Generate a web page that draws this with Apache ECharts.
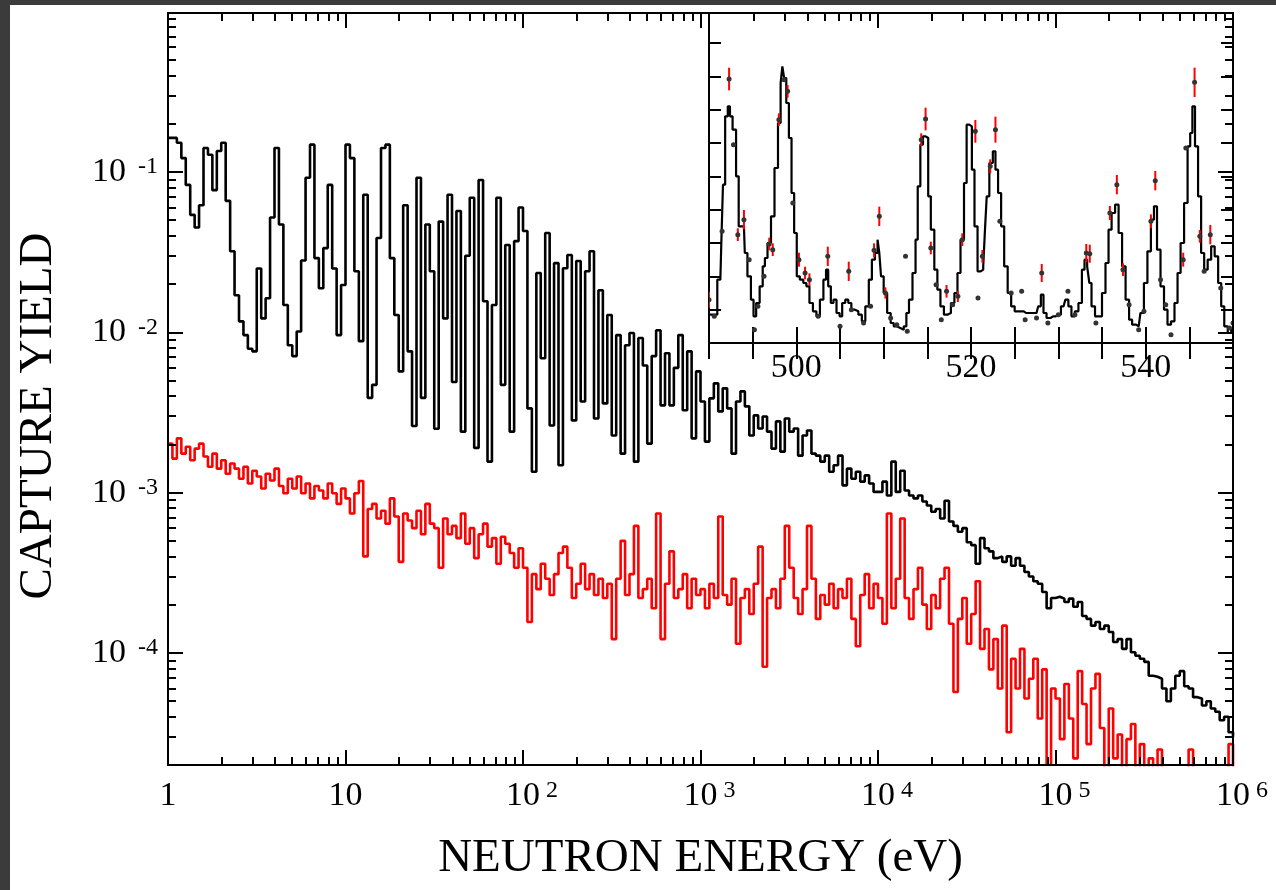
<!DOCTYPE html>
<html lang="en">
<head>
<meta charset="utf-8">
<title>Capture yield vs neutron energy</title>
<script src="https://cdn.jsdelivr.net/npm/echarts@6/dist/echarts.min.js"></script>
<style>
    html, body { margin: 0; padding: 0; background: #3b3b3b; }
    #main { position: absolute; left: 10px; top: 5px; width: 1266px; height: 885px; background: #fff; }
</style>
</head>
<body>
<div id="main"></div>
<script type="text/javascript">
    // bin energies: 40 bins per decade, mantissas of one decade
    var mantissa = [1.000, 1.059, 1.122, 1.189, 1.259, 1.334, 1.413, 1.496, 1.585, 1.679,
        1.778, 1.884, 1.995, 2.113, 2.239, 2.371, 2.512, 2.661, 2.818, 2.985,
        3.162, 3.350, 3.548, 3.758, 3.981, 4.217, 4.467, 4.732, 5.012, 5.309,
        5.623, 5.957, 6.310, 6.683, 7.079, 7.499, 7.943, 8.414, 8.913, 9.441];
    var decades = [1, 10, 100, 1000, 10000, 100000];

    // black histogram (sample capture yield), one value per bin, last value at 1e6 eV
    var sampleYield = [
        0.163, 0.163, 0.152, 0.122, 0.083, 0.054, 0.045, 0.062, 0.141, 0.128, 0.077, 0.135, 0.152, 0.066, 0.032, 0.017, 0.0117, 0.0096, 0.0079, 0.0076,
        0.025, 0.0122, 0.0163, 0.052, 0.141, 0.047, 0.0148, 0.0083, 0.0071, 0.0101, 0.028, 0.092, 0.148, 0.029, 0.0188, 0.0335, 0.083, 0.025, 0.0096, 0.0197,
        0.148, 0.122, 0.024, 0.0088, 0.072, 0.0039, 0.0047, 0.0387, 0.141, 0.148, 0.029, 0.0128, 0.0057, 0.062, 0.0076, 0.0026, 0.092, 0.0039, 0.047, 0.024,
        0.0025, 0.049, 0.0122, 0.072, 0.0049, 0.057, 0.0024, 0.030, 0.069, 0.0019, 0.089, 0.0156, 0.00156, 0.0148, 0.069, 0.0047, 0.035, 0.0024, 0.037, 0.060,
        0.0428, 0.00335, 0.00135, 0.0234, 0.00688, 0.0416, 0.00262, 0.027, 0.00148, 0.0251, 0.0303, 0.00282, 0.0278, 0.0037, 0.024, 0.032, 0.0029, 0.0183, 0.0036, 0.0128,
        0.00227, 0.0096, 0.00175, 0.0083, 0.0099, 0.00156, 0.0092, 0.0062, 0.00202, 0.0071, 0.0103, 0.0035, 0.0074, 0.0035, 0.006, 0.0096, 0.00326, 0.0076, 0.00218, 0.0057,
        0.0037, 0.00208, 0.00387, 0.0048, 0.00321, 0.00447, 0.00335, 0.00175, 0.0037, 0.00428, 0.00345, 0.00227, 0.00303, 0.00251, 0.00298, 0.0024, 0.00188, 0.00278, 0.0018, 0.0029,
        0.0024, 0.00251, 0.0017, 0.00227, 0.00244, 0.00175, 0.0017, 0.00156, 0.0017, 0.00135, 0.00148, 0.0017, 0.00111, 0.00141, 0.00122, 0.00135, 0.00117, 0.00128, 0.00114, 0.00101,
        0.00101, 0.00117, 0.00096, 0.00156, 0.00101, 0.00137, 0.00103, 0.00096, 0.00092, 0.00096, 0.00088, 0.00083, 0.00076, 0.00079, 0.00069, 0.00089, 0.00066, 0.00062, 0.00057, 0.0006,
        0.00049, 0.00047, 0.00036, 0.00052, 0.00045, 0.00043, 0.00039, 0.0004, 0.00037, 0.0004, 0.00035, 0.00039, 0.00035, 0.00032, 0.0003, 0.00028, 0.00027, 0.00024, 0.00019, 0.00022,
        0.000224, 0.000218, 0.000208, 0.000218, 0.000194, 0.000208, 0.00017, 0.000163, 0.000148, 0.000156, 0.000141, 0.000148, 0.000135, 0.000117, 0.000122, 0.000106, 0.000122, 0.000101, 0.000096, 0.000092,
        0.000088, 0.000072, 0.000071, 0.000069, 0.00006, 0.00005, 0.00006, 0.000072, 0.000077, 0.000062, 0.00006, 0.000053, 0.000052, 0.000047, 0.00005, 0.000045, 0.000043, 0.000038, 0.00004, 0.000032,
        0.00003
    ];

    // red histogram (background)
    var backgroundYield = [
        0.00202, 0.00163, 0.00218, 0.00175, 0.00193, 0.00159, 0.00188, 0.00202, 0.00168, 0.00145, 0.00175, 0.00141, 0.00159, 0.00131, 0.00152, 0.00141, 0.00122, 0.00145, 0.00114, 0.00137,
        0.00126, 0.00106, 0.00131, 0.00119, 0.00141, 0.0011, 0.00099, 0.00122, 0.00106, 0.00126, 0.00099, 0.00114, 0.00092, 0.0011, 0.00103, 0.00092, 0.00114, 0.00099, 0.00085, 0.00106,
        0.00092, 0.00074, 0.00099, 0.00118, 0.0004, 0.00079, 0.00085, 0.00069, 0.00077, 0.00064, 0.00092, 0.00071, 0.00037, 0.00074, 0.00067, 0.0006, 0.00077, 0.00055, 0.00085, 0.00064,
        0.0006, 0.00034, 0.00069, 0.00055, 0.00062, 0.00052, 0.00074, 0.00048, 0.0006, 0.00039, 0.00055, 0.00064, 0.00046, 0.00052, 0.00036, 0.00053, 0.00048, 0.00042, 0.00034, 0.00045,
        0.00034, 0.000156, 0.00031, 0.00025, 0.00036, 0.00029, 0.00023, 0.00031, 0.00042, 0.00046, 0.00034, 0.00022, 0.00027, 0.00036, 0.00025, 0.00031, 0.00023, 0.00029, 0.00022, 0.00027,
        0.000122, 0.00029, 0.0005, 0.00023, 0.00031, 0.00062, 0.00022, 0.00025, 0.00029, 0.00019, 0.00074, 0.000122, 0.00027, 0.00043, 0.00022, 0.00025, 0.00031, 0.00019, 0.00029, 0.00023,
        0.00025, 0.00019, 0.00027, 0.00022, 0.00071, 0.00023, 0.0002, 0.00029, 0.000114, 0.00022, 0.00025, 0.000175, 0.00027, 0.00046, 0.000082, 0.00022, 0.00025, 0.00019, 0.00029, 0.00062,
        0.00034, 0.00022, 0.000175, 0.00025, 0.00062, 0.00029, 0.000163, 0.00023, 0.0002, 0.00027, 0.00019, 0.00025, 0.00022, 0.00029, 0.000163, 0.00011, 0.00023, 0.00031, 0.00019, 0.00027,
        0.00022, 0.000152, 0.00074, 0.00019, 0.00029, 0.00069, 0.00022, 0.000163, 0.00025, 0.00034, 0.0002, 0.000141, 0.00023, 0.00019, 0.00029, 0.00034, 0.000152, 0.000057, 0.000163, 0.00022,
        0.000114, 0.000175, 0.00028, 0.000106, 0.000141, 0.000079, 0.000122, 0.00006, 0.000148, 0.000032, 0.000092, 0.00006, 0.000106, 0.000052, 0.000069, 0.000092, 0.000039, 0.000079, 0.00002, 0.00006,
        0.000052, 0.000029, 0.000064, 0.000039, 0.000022, 0.000077, 0.000048, 0.000027, 0.00006, 0.000074, 0.000034, 0.000019, 0.000045, 0.000022, 0.000031, 0.000016, 0.000029, 0.000036, 0.000014, 0.000027,
        0.0000122, 0.000022, 0.000015, 0.000025, 0.0000122, 0.000016, 0.0000092, 0.0000122, 0.000008, 0.000014, 0.000025, 0.0000105, 0.0000069, 0.0000122, 0.000008, 0.0000092, 0.000006, 0.0000105, 0.0000069, 0.000027,
        0.0000122
    ];

    var xMajor = [1, 10, 100, 1000, 10000, 100000, 1000000];
    var yMajor = [1e-4, 1e-3, 1e-2, 1e-1];

    // inset: fitted curve (step) and measured points [E, yield, error]
    var zoomFit = [
        [490.0, 0.85], [490.6, 0.85], [491.3, 1.9], [491.5, 2.9], [491.7, 4.75], [492.0, 6.8], [492.3, 7.1], [492.5, 6.8], [492.9, 6.4], [493.3, 5.0],
        [493.5, 3.5], [494.0, 3.5], [494.2, 2.7], [494.6, 2.0], [495.0, 1.3], [495.2, 0.8], [495.6, 1.2], [496.0, 1.7], [496.3, 2.3], [496.5, 2.55],
        [496.9, 3.0], [497.3, 3.8], [497.7, 5.25], [498.1, 6.6], [498.3, 7.8], [498.5, 8.3], [498.7, 7.95], [499.0, 7.2], [499.3, 6.15], [499.6, 4.5],
        [499.9, 3.3], [500.2, 2.0], [500.6, 1.9], [501.0, 1.8], [501.3, 1.7], [501.7, 1.2], [502.1, 0.95], [502.5, 0.8], [502.9, 1.3], [503.3, 1.9],
        [503.5, 2.2], [503.8, 1.7], [504.1, 1.2], [504.4, 1.3], [504.8, 0.9], [505.1, 0.8], [505.4, 1.2], [505.8, 1.3], [506.1, 1.2], [506.5, 1.0],
        [506.9, 0.95], [507.3, 0.85], [507.7, 0.65], [508.1, 1.1], [508.5, 1.9], [508.8, 2.5], [509.2, 2.7], [509.4, 3.1], [509.6, 2.7], [509.8, 2.0],
        [510.2, 1.5], [510.6, 0.9], [511.0, 0.6], [511.3, 0.5], [511.7, 0.45], [512.1, 0.4], [512.5, 0.5], [512.7, 0.9], [513.1, 1.3], [513.5, 2.1],
        [513.8, 3.1], [514.0, 4.7], [514.4, 5.95], [514.6, 6.2], [515.0, 6.15], [515.2, 4.4], [515.6, 3.4], [516.0, 2.2], [516.3, 1.6], [516.7, 1.1],
        [517.1, 0.85], [517.5, 0.9], [517.9, 1.2], [518.3, 1.5], [518.6, 2.1], [519.0, 3.1], [519.4, 4.8], [519.6, 6.55], [520.0, 6.5], [520.2, 5.2],
        [520.6, 3.5], [520.9, 2.15], [521.3, 2.2], [521.5, 2.3], [521.7, 3.4], [521.9, 4.4], [522.3, 5.4], [522.7, 5.75], [522.9, 5.2], [523.3, 4.5],
        [523.6, 3.5], [524.0, 2.3], [524.4, 1.5], [524.8, 1.1], [525.2, 0.95], [525.8, 0.95], [526.3, 0.9], [526.9, 0.9], [527.5, 0.9], [527.9, 1.1],
        [528.1, 1.45], [528.5, 0.9], [528.8, 0.75], [529.4, 0.8], [530.0, 0.85], [530.6, 1.1], [531.0, 1.3], [531.3, 1.1], [531.7, 0.8], [532.1, 0.95],
        [532.5, 1.2], [532.9, 2.2], [533.1, 2.5], [533.5, 2.3], [533.6, 1.8], [534.0, 1.1], [534.4, 0.8], [534.8, 0.8], [535.2, 1.5], [535.6, 2.4],
        [535.9, 3.4], [536.3, 3.9], [536.7, 4.15], [537.1, 3.3], [537.5, 2.3], [537.9, 1.3], [538.3, 0.7], [538.6, 0.55], [539.2, 0.5], [539.6, 0.9],
        [540.0, 1.8], [540.4, 2.75], [540.8, 3.7], [541.1, 4.1], [541.5, 2.8], [541.9, 1.7], [542.3, 1.0], [542.7, 0.55], [543.1, 0.65], [543.5, 1.2],
        [543.8, 2.1], [544.2, 3.0], [544.6, 4.2], [545.0, 5.9], [545.2, 6.3], [545.5, 7.1], [545.8, 5.9], [546.2, 4.4], [546.5, 2.7], [546.9, 2.2],
        [547.3, 2.5], [547.7, 2.9], [548.1, 2.6], [548.5, 1.8], [548.8, 1.1], [549.2, 0.5], [549.6, 0.3], [550.0, 0.4]
    ];
    var zoomPoints = [
        [490.0, 1.3, 0.15], [492.3, 7.92, 0.25], [493.3, 3.25, 0.1], [494.0, 3.7, 0.2], [496.9, 2.97, 0.1], [497.3, 2.8, 0.1],
        [498.0, 6.7, 0.1], [499.0, 7.55, 0.1], [500.3, 2.5, 0.12], [501.0, 2.1, 0.1], [501.5, 1.9, 0.1], [503.6, 2.6, 0.2],
        [506.0, 2.15, 0.2], [508.9, 2.78, 0.12], [509.5, 3.8, 0.2], [510.2, 1.5, 0.08], [514.3, 6.1, 0.1], [514.8, 6.72, 0.25],
        [515.4, 2.85, 0.1], [517.2, 1.55, 0.1], [518.5, 1.4, 0.08], [519.0, 3.1, 0.1], [520.5, 6.35, 0.25], [521.3, 2.6, 0.1],
        [522.2, 5.3, 0.12], [522.8, 6.4, 0.3], [528.1, 2.1, 0.18], [533.2, 2.7, 0.18], [533.6, 2.68, 0.18], [535.9, 3.9, 0.12],
        [536.7, 4.75, 0.2], [537.4, 2.2, 0.1], [540.6, 3.65, 0.12], [541.1, 4.87, 0.2], [544.3, 2.5, 0.12], [545.6, 7.82, 0.35],
        [546.2, 3.2, 0.1], [547.4, 3.25, 0.2], [550.0, 0.6, 0.1],
        [490.6, 0.8, 0], [491.5, 3.35, 0], [492.8, 5.95, 0], [494.6, 2.5, 0], [495.2, 0.4, 0], [495.6, 1.1, 0], [496.3, 2.0, 0],
        [498.6, 7.9, 0], [499.6, 4.2, 0], [502.5, 0.8, 0], [505.0, 0.5, 0], [506.3, 1.0, 0], [507.7, 0.6, 0], [508.5, 1.1, 0],
        [510.8, 0.75, 0], [511.5, 0.55, 0], [512.7, 0.35, 0], [512.5, 2.6, 0], [516.0, 1.75, 0], [516.6, 0.7, 0], [517.9, 1.15, 0],
        [520.8, 1.35, 0], [523.3, 3.65, 0], [524.6, 1.5, 0], [525.8, 1.55, 0], [526.2, 0.7, 0], [527.5, 0.75, 0], [528.8, 0.6, 0],
        [530.0, 0.85, 0], [531.1, 1.55, 0], [531.9, 0.85, 0], [534.3, 0.6, 0], [538.1, 1.15, 0], [539.2, 0.4, 0], [539.8, 0.95, 0],
        [541.7, 1.9, 0], [542.3, 1.15, 0], [542.9, 0.25, 0], [544.6, 5.85, 0], [546.7, 2.15, 0], [548.6, 1.65, 0], [549.6, 0.45, 0]
    ];

    var FONT = 'Liberation Serif';

    var energy = [];
    decades.forEach(function (d) {
        mantissa.forEach(function (m) { energy.push(+(m * d).toPrecision(4)); });
    });
    energy.push(1e6);

    // 2..9 x 10^p ticks between two powers
    function minorTicks(p0, p1, lo, hi) {
        var out = [];
        for (var p = p0; p < p1; p++) {
            for (var m = 2; m <= 9; m++) {
                var v = +(m * Math.pow(10, p)).toPrecision(3);
                if (v >= lo && v <= hi) out.push(v);
            }
        }
        return out;
    }
    var xMinor = minorTicks(0, 6, 1, 1e6);
    var yMinor = minorTicks(-5, 0, 2e-5, 0.98);

    var line = { color: '#000', width: 2 };

    function logX(position, ticks, len, withLine, label) {
        return {
            type: 'log', gridIndex: 0, position: position, min: 1, max: 1e6, z: 20,
            axisLine: { show: withLine, lineStyle: line },
            axisTick: { show: true, inside: true, length: len, customValues: ticks, lineStyle: line },
            axisLabel: label || { show: false },
            splitLine: { show: false }, minorTick: { show: false }
        };
    }
    function logY(position, ticks, len, withLine, label) {
        return {
            type: 'log', gridIndex: 0, position: position, min: 2e-5, max: 0.98, z: 20,
            axisLine: { show: withLine, lineStyle: line },
            axisTick: { show: true, inside: true, length: len, customValues: ticks, lineStyle: line },
            axisLabel: label || { show: false },
            splitLine: { show: false }, minorTick: { show: false }
        };
    }

    var xLabel = {
        show: true, customValues: xMajor, margin: 14,
        formatter: function (v) {
            var p = Math.round(Math.log10(v));
            if (p === 0) return '{b|1}';
            if (p === 1) return '{b|10}';
            return '{sp|}{b|10}{sup|' + p + '}';
        },
        rich: {
            b: { fontFamily: FONT, fontSize: 34, lineHeight: 34, padding: [12, 0, 12, 0], color: '#000' },
            sup: { fontFamily: FONT, fontSize: 24, lineHeight: 24, verticalAlign: 'top', padding: [0, 0, 0, 6], color: '#000' },
            sp: { width: 18 }
        }
    };
    var yLabel = {
        show: true, customValues: yMajor, margin: 10,
        formatter: function (v) {
            return '{b|10}{sup|' + Math.round(Math.log10(v)) + '}';
        },
        rich: {
            b: { fontFamily: FONT, fontSize: 34, lineHeight: 34, padding: [20, 0, 20, 0], color: '#000' },
            sup: { fontFamily: FONT, fontSize: 24, lineHeight: 24, verticalAlign: 'top', padding: [0, 0, 0, 12], color: '#000' }
        }
    };

    var xMain = logX('bottom', xMajor, 15, true, xLabel);
    xMain.name = 'NEUTRON ENERGY (eV)';
    xMain.nameLocation = 'middle';
    xMain.nameGap = 70;
    xMain.nameMoveOverlap = false;
    xMain.nameTextStyle = { fontFamily: FONT, fontSize: 47, color: '#000' };

    var yMain = logY('left', yMajor, 15, true, yLabel);
    yMain.name = 'CAPTURE YIELD';
    yMain.nameLocation = 'middle';
    yMain.nameGap = 106;
    yMain.nameMoveOverlap = false;
    // right padding pushes the rotated title down along the axis
    yMain.nameTextStyle = { fontFamily: FONT, fontSize: 47, color: '#000', padding: [0, 54, 0, 0] };

    function insetX(position, label) {
        return {
            type: 'value', gridIndex: 1, position: position, min: 490, max: 550, interval: 5, z: 11,
            axisLine: { show: true, lineStyle: line },
            axisTick: { show: true, inside: true, length: 16, lineStyle: line },
            axisLabel: label || { show: false },
            splitLine: { show: false }
        };
    }
    function insetY(position) {
        return {
            type: 'value', gridIndex: 1, position: position, min: 0, max: 9.9, interval: 1, z: 11,
            axisLine: { show: true, lineStyle: line },
            axisTick: { show: true, inside: true, length: 12, lineStyle: line },
            axisLabel: { show: false },
            splitLine: { show: false }
        };
    }

    var myChart = echarts.init(document.getElementById('main'));
    var option = {
        animation: false,
        backgroundColor: '#fff',
        grid: [
            { left: 158, top: 8, right: 43, bottom: 125, outerBoundsMode: 'none' },
            { left: 699, top: 8, right: 43, bottom: 547, outerBoundsMode: 'none', z: 10, show: true,
              backgroundColor: '#fff', borderColor: '#000', borderWidth: 2 }
        ],
        xAxis: [
            xMain,
            logX('bottom', xMinor, 8, false),
            logX('top', xMajor, 15, true),
            logX('top', xMinor, 8, false),
            insetX('bottom', {
                show: true, margin: 8, fontFamily: FONT, fontSize: 34, color: '#000',
                formatter: function (v) { return v % 20 === 0 ? String(v) : ''; }
            }),
            insetX('top')
        ],
        yAxis: [
            yMain,
            logY('left', yMinor, 8, false),
            logY('right', yMajor, 15, true),
            logY('right', yMinor, 8, false),
            insetY('left'),
            insetY('right')
        ],
        series: [
            {
                name: 'sample', type: 'line', xAxisIndex: 0, yAxisIndex: 0, step: 'end',
                showSymbol: false, symbol: 'none', z: 2,
                lineStyle: { color: '#000', width: 2.6 },
                data: energy.map(function (e, i) { return [e, sampleYield[i]]; })
            },
            {
                name: 'background', type: 'line', xAxisIndex: 0, yAxisIndex: 0, step: 'end',
                showSymbol: false, symbol: 'none', z: 3,
                lineStyle: { color: '#ff0000', width: 2.6 },
                data: energy.map(function (e, i) { return [e, backgroundYield[i]]; })
            },
            {
                name: 'fit', type: 'line', xAxisIndex: 4, yAxisIndex: 4, step: 'middle',
                showSymbol: false, symbol: 'none', z: 12,
                lineStyle: { color: '#000', width: 2.2 },
                data: zoomFit
            },
            {
                name: 'points', type: 'custom', xAxisIndex: 4, yAxisIndex: 4, z: 13, clip: true,
                renderItem: function (params, api) {
                    var x = api.value(0), y = api.value(1), err = api.value(2);
                    var c = api.coord([x, y]);
                    var children = [];
                    if (err > 0) {
                        var hi = api.coord([x, y + err]), lo = api.coord([x, y - err]);
                        children.push({
                            type: 'line',
                            shape: { x1: c[0], y1: hi[1] - 3, x2: c[0], y2: lo[1] + 3 },
                            style: { stroke: '#ff0000', lineWidth: 2 }
                        });
                    }
                    children.push({
                        type: 'circle', shape: { cx: c[0], cy: c[1], r: 2.5 },
                        style: { fill: '#333' }
                    });
                    return { type: 'group', children: children };
                },
                data: zoomPoints
            }
        ]
    };
    myChart.setOption(option);
</script>
</body>
</html>
